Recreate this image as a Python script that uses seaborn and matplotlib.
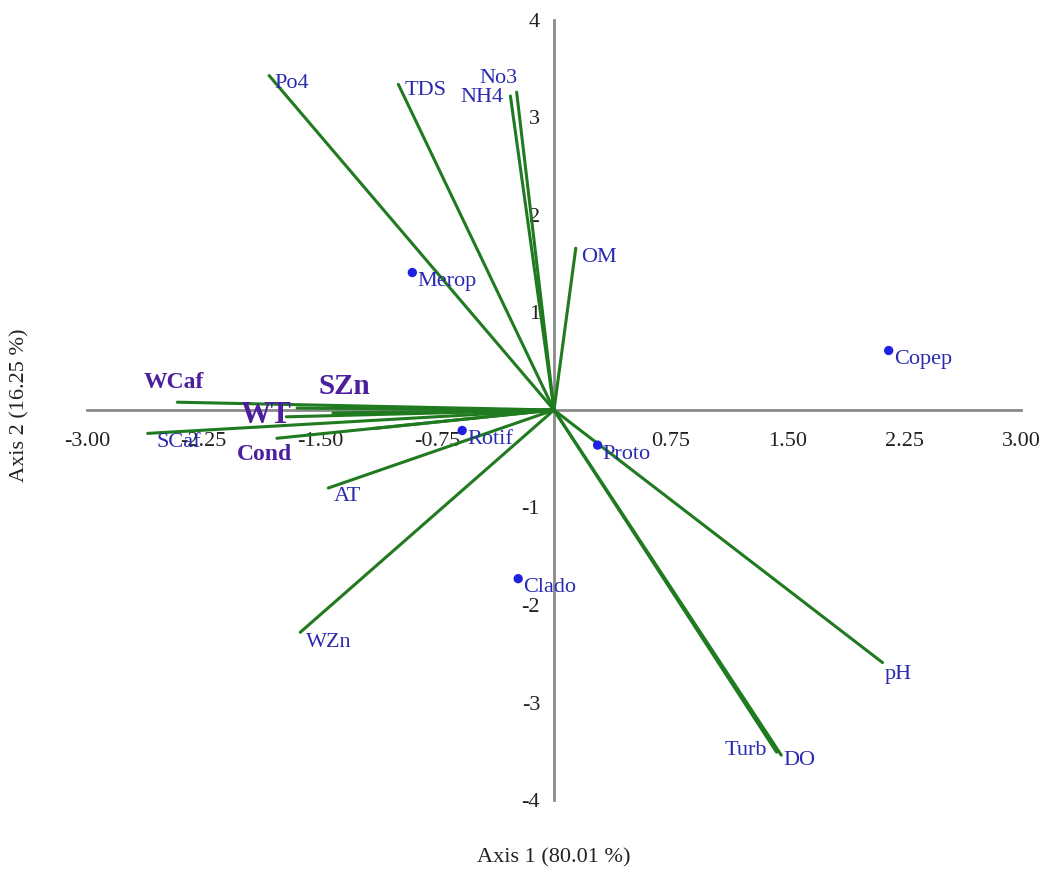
import numpy as np
import pandas as pd
import matplotlib
matplotlib.use("Agg")
import matplotlib.pyplot as plt
import seaborn as sns

# environmental vectors (biplot arrows)
env_names = ["Po4", "TDS", "No3", "NH4", "OM", "WCaf", "SCaf", "WT", "SZn",
             "Cond", "SMg", "WMg", "AT", "WZn", "pH", "Turb", "DO"]
env_x = [-1.83, -1.00, -0.24, -0.28, 0.14, -2.42, -2.61, -1.72, -1.65,
         -1.78, -1.42, -1.16, -1.45, -1.63, 2.11, 1.43, 1.46]
env_y = [3.43, 3.34, 3.26, 3.22, 1.66, 0.08, -0.24, -0.07, 0.02,
         -0.29, -0.03, -0.19, -0.80, -2.28, -2.59, -3.51, -3.54]
env_labels = ["Po4", "TDS", "No3", "NH4", "OM", "WCaf", "SCaf", "WT", "SZn",
              "Cond", "", "", "AT", "WZn", "pH", "Turb", "DO"]

# species scores
sp_names = ["Merop", "Copep", "Rotif", "Proto", "Clado"]
sp_x = [-0.91, 2.15, -0.59, 0.28, -0.23]
sp_y = [1.41, 0.61, -0.21, -0.36, -1.73]

x_ticks = [-3.00, -2.25, -1.50, -0.75, 0.75, 1.50, 2.25, 3.00]
y_ticks = [-4, -3, -2, -1, 1, 2, 3, 4]

green = "#207a20"
blue = "#2a2ab0"
purple = "#4d1f9e"
gray = "#8a8a8a"

sns.set_style("white")
plt.rcParams["font.family"] = ["Liberation Serif", "DejaVu Serif"]

fig = plt.figure(figsize=(10.44, 8.73), dpi=100)
ax = fig.add_axes([87 / 1044, 73 / 873, 934 / 1044, 780 / 873])

# vectors as two-point lines from the origin
rows = []
for n, x, y in zip(env_names, env_x, env_y):
    rows.append({"var": n, "x": 0.0, "y": 0.0})
    rows.append({"var": n, "x": x, "y": y})
vec = pd.DataFrame(rows)
sns.lineplot(data=vec, x="x", y="y", units="var", estimator=None, sort=False,
             color=green, linewidth=2.2, ax=ax, zorder=2)

sp = pd.DataFrame({"name": sp_names, "x": sp_x, "y": sp_y})
sns.scatterplot(data=sp, x="x", y="y", color="#2020e0", s=45, edgecolor="none",
                ax=ax, zorder=4)

# label placement: pixel offset, alignment, size, weight, colour
lab_style = {
    "Po4": (5, -8, "left", 16, "normal", blue),
    "TDS": (6, -6, "left", 16, "normal", blue),
    "No3": (1, 14, "right", 16, "normal", blue),
    "NH4": (-7, -1, "right", 16, "normal", blue),
    "OM": (5, -9, "left", 16, "normal", blue),
    "WCaf": (-3, 20, "center", 17, "bold", purple),
    "SCaf": (9, -9, "left", 16, "normal", blue),
    "WT": (-20, 1, "center", 22, "bold", purple),
    "SZn": (47, 22, "center", 21, "bold", purple),
    "Cond": (-12, -16, "center", 17, "bold", purple),
    "AT": (5, -9, "left", 16, "normal", blue),
    "WZn": (6, -10, "left", 16, "normal", blue),
    "pH": (2, -12, "left", 16, "normal", blue),
    "Turb": (-10, 2, "right", 16, "normal", blue),
    "DO": (2, -5, "left", 16, "normal", blue),
}
for n, lab, x, y in zip(env_names, env_labels, env_x, env_y):
    if not lab:
        continue
    dx, dy, ha, fs, fw, col = lab_style[n]
    ax.annotate(lab, (x, y), xytext=(dx, dy), textcoords="offset pixels",
                ha=ha, va="center", fontsize=fs, fontweight=fw, color=col,
                zorder=5)

for n, x, y in zip(sp_names, sp_x, sp_y):
    ax.annotate(n, (x, y), xytext=(5, -9), textcoords="offset pixels",
                ha="left", va="center", fontsize=16, color=blue, zorder=5)

ax.set_xlim(-3, 3)
ax.set_ylim(-4, 4)
ax.spines["left"].set_position(("data", 0))
ax.spines["bottom"].set_position(("data", 0))
ax.spines["top"].set_visible(False)
ax.spines["right"].set_visible(False)
for s in ["left", "bottom"]:
    ax.spines[s].set_color(gray)
    ax.spines[s].set_linewidth(2)
    ax.spines[s].set_zorder(1)
ax.set_xticks(x_ticks)
ax.set_xticklabels([f"{v:.2f}" for v in x_ticks])
ax.set_yticks(y_ticks)
ax.set_yticklabels([str(v) for v in y_ticks])
ax.tick_params(axis="both", direction="out", length=7, width=1.5, color=gray,
               labelsize=16, labelcolor="#222222", pad=3)
ax.tick_params(axis="x", pad=9)
ax.set_xlabel("")
ax.set_ylabel("")

fig.text(554 / 1044, 1 - 858 / 873, "Axis 1 (80.01 %)", ha="center", va="center",
         fontsize=16, color="#222222")
fig.text(20 / 1044, 1 - 405 / 873, "Axis 2 (16.25 %)", ha="center", va="center",
         rotation=90, fontsize=16, color="#222222")

fig.savefig("out.png", dpi=100, facecolor="white")
